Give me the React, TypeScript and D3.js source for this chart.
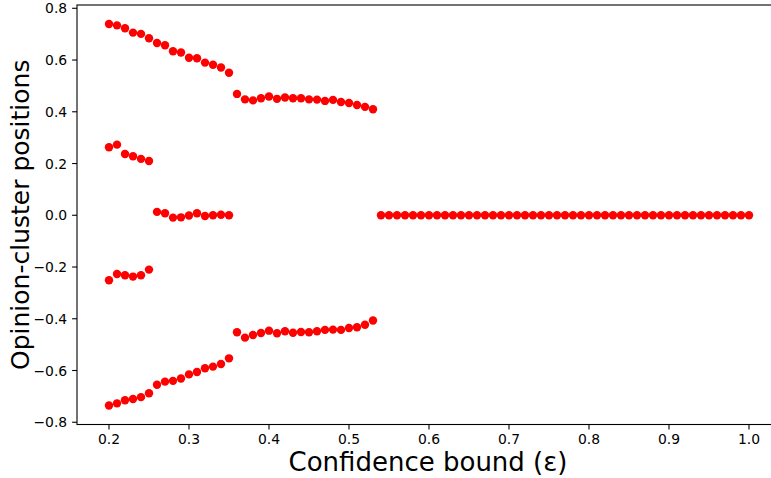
import React from "react";
import * as d3 from "d3";

// Cluster series (x = confidence bound, y = cluster position)
const upperX = [0.2,0.21,0.22,0.23,0.24,0.25,0.26,0.27,0.28,0.29,0.3,0.31,0.32,0.33,0.34,0.35,0.36,0.37,0.38,0.39,0.4,0.41,0.42,0.43,0.44,0.45,0.46,0.47,0.48,0.49,0.5,0.51,0.52,0.53];
const upperY = [0.739,0.734,0.723,0.706,0.701,0.684,0.666,0.657,0.634,0.629,0.609,0.607,0.59,0.582,0.571,0.551,0.469,0.448,0.444,0.452,0.459,0.45,0.455,0.452,0.452,0.448,0.447,0.442,0.446,0.438,0.434,0.426,0.419,0.41];

const midUpperX = [0.2,0.21,0.22,0.23,0.24,0.25];
const midUpperY = [0.263,0.273,0.237,0.228,0.218,0.21];

const centerX = [0.26,0.27,0.28,0.29,0.3,0.31,0.32,0.33,0.34,0.35];
const centerY = [0.013,0.008,-0.009,-0.008,-0.001,0.008,-0.003,0.0,0.002,0.0];

const midLowerX = [0.2,0.21,0.22,0.23,0.24,0.25];
const midLowerY = [-0.251,-0.227,-0.232,-0.237,-0.232,-0.21];

const lowerX = [0.2,0.21,0.22,0.23,0.24,0.25,0.26,0.27,0.28,0.29,0.3,0.31,0.32,0.33,0.34,0.35,0.36,0.37,0.38,0.39,0.4,0.41,0.42,0.43,0.44,0.45,0.46,0.47,0.48,0.49,0.5,0.51,0.52,0.53];
const lowerY = [-0.735,-0.727,-0.715,-0.71,-0.703,-0.688,-0.655,-0.643,-0.64,-0.631,-0.615,-0.606,-0.591,-0.585,-0.575,-0.553,-0.452,-0.473,-0.463,-0.455,-0.446,-0.456,-0.448,-0.454,-0.451,-0.452,-0.448,-0.443,-0.442,-0.443,-0.436,-0.433,-0.423,-0.407];

const consensusX = [0.54,0.55,0.56,0.57,0.58,0.59,0.6,0.61,0.62,0.63,0.64,0.65,0.66,0.67,0.68,0.69,0.7,0.71,0.72,0.73,0.74,0.75,0.76,0.77,0.78,0.79,0.8,0.81,0.82,0.83,0.84,0.85,0.86,0.87,0.88,0.89,0.9,0.91,0.92,0.93,0.94,0.95,0.96,0.97,0.98,0.99,1.0];
const consensusY = [0,0,0,0,0,0,0,0,0,0,0,0,0,0,0,0,0,0,0,0,0,0,0,0,0,0,0,0,0,0,0,0,0,0,0,0,0,0,0,0,0,0,0,0,0,0,0];

const xTicks = [0.2,0.3,0.4,0.5,0.6,0.7,0.8,0.9,1.0];
const yTicks = [-0.8,-0.6,-0.4,-0.2,0.0,0.2,0.4,0.6,0.8];

const W = 771, H = 478;
const left = 77, top = 5, right = 781, bottom = 424.5;
const font = "'DejaVu Sans', sans-serif";

export default function App() {
  const series = [
    [upperX, upperY], [midUpperX, midUpperY], [centerX, centerY],
    [midLowerX, midLowerY], [lowerX, lowerY], [consensusX, consensusY],
  ] as [number[], number[]][];
  const pts = series.flatMap(([xs, ys]) => xs.map((x, i) => ({ x, y: ys[i] })));
  const [xmin, xmax] = d3.extent(pts, d => d.x) as [number, number];
  const [ymin, ymax] = d3.extent(pts, d => d.y) as [number, number];
  const xm = (xmax - xmin) * 0.05, ym = (ymax - ymin) * 0.05;
  const x = d3.scaleLinear().domain([xmin - xm, xmax + xm]).range([left, right]);
  const y = d3.scaleLinear().domain([ymin - ym, ymax + ym]).range([bottom, top]);
  const fmt = (v: number) => d3.format(".1f")(v).replace("-", "\u2212");

  return (
    <svg width={W} height={H} style={{ position: "fixed", left: 0, top: 0, background: "#fff" }}>
      <rect x={0} y={0} width={W} height={H} fill="#fff" />
      {pts.map((p, i) => (
        <circle key={i} cx={x(p.x)} cy={y(p.y)} r={4.2} fill="#ff0000" />
      ))}
      <rect x={left} y={top} width={right - left} height={bottom - top} fill="none" stroke="#000" strokeWidth={1.1} />
      {xTicks.map(t => (
        <g key={"x" + t}>
          <line x1={x(t)} x2={x(t)} y1={bottom} y2={bottom + 4.9} stroke="#000" strokeWidth={1.1} />
          <text x={x(t)} y={bottom + 4.9 + 4.9 + 10} textAnchor="middle" fontFamily={font} fontSize={13.9}>{fmt(t)}</text>
        </g>
      ))}
      {yTicks.map(t => (
        <g key={"y" + t}>
          <line x1={left - 4.9} x2={left} y1={y(t)} y2={y(t)} stroke="#000" strokeWidth={1.1} />
          <text x={left - 4.9 - 4.9} y={y(t)} dy="0.36em" textAnchor="end" fontFamily={font} fontSize={13.9}>{fmt(t)}</text>
        </g>
      ))}
      <text x={428} y={471} textAnchor="middle" fontFamily={font} fontSize={26}>Confidence bound (ε)</text>
      <text transform={`translate(29, ${(top + bottom) / 2}) rotate(-90)`} textAnchor="middle" fontFamily={font} fontSize={25}>Opinion-cluster positions</text>
    </svg>
  );
}
